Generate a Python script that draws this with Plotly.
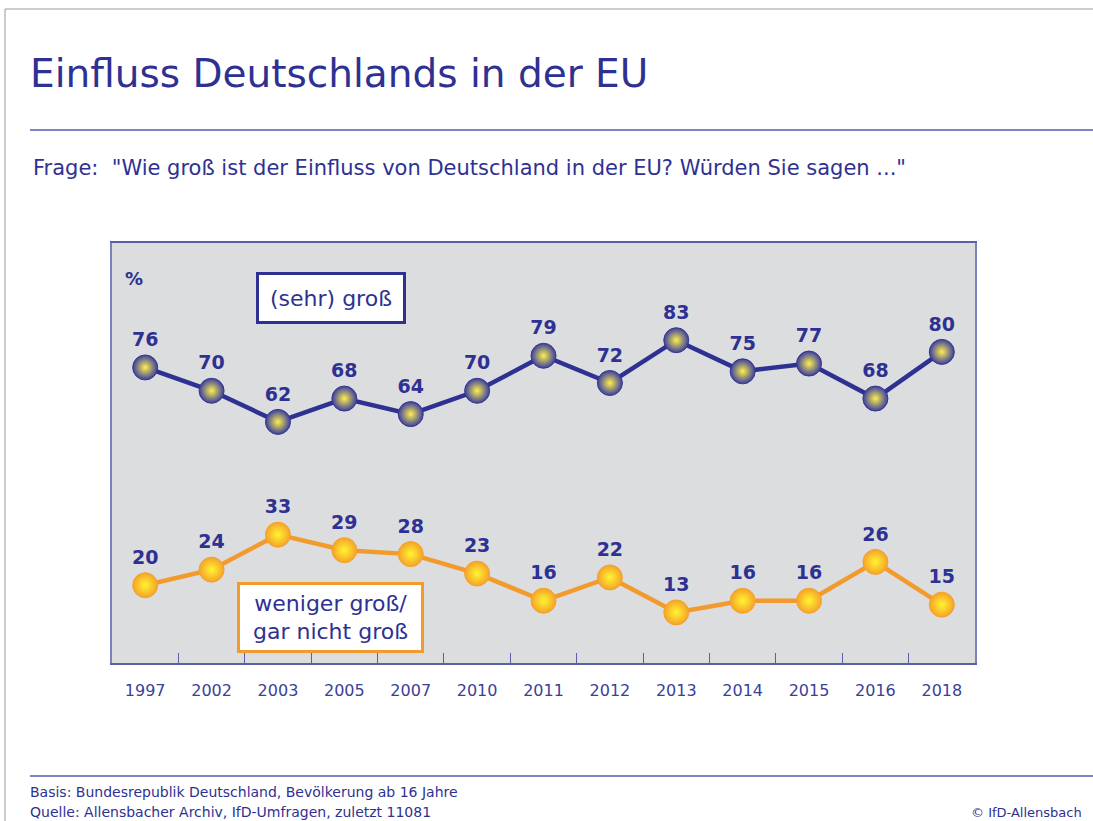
import plotly.graph_objects as go

years = ["1997", "2002", "2003", "2005", "2007", "2010", "2011", "2012", "2013", "2014", "2015", "2016", "2018"]
sehr_gross = [76, 70, 62, 68, 64, 70, 79, 72, 83, 75, 77, 68, 80]
weniger_gross = [20, 24, 33, 29, 28, 23, 16, 22, 13, 16, 16, 26, 15]

BLUE = "#2e3192"
ORANGE = "#f39a2c"
FONT = "DejaVu Sans"
W, H = 1093, 821
L, R, T, B = 112, 975, 243, 663


def px(x):
    return (x - L) / (R - L)


def py(y):
    return (B - y) / (B - T)


fig = go.Figure()

fig.add_trace(go.Scatter(
    x=years, y=sehr_gross, mode="lines+markers+text",
    text=[str(v) for v in sehr_gross], textposition="top center",
    textfont=dict(family=FONT, size=19, color=BLUE, weight="bold"),
    line=dict(color=BLUE, width=4.5),
    marker=dict(size=25, color="#3b3ea0", line=dict(color="#34378f", width=1),
                gradient=dict(type="radial", color="#fff04a")),
    cliponaxis=False, hoverinfo="skip", showlegend=False,
))
fig.add_trace(go.Scatter(
    x=years, y=weniger_gross, mode="lines+markers+text",
    text=[str(v) for v in weniger_gross], textposition="top center",
    textfont=dict(family=FONT, size=19, color=BLUE, weight="bold"),
    line=dict(color=ORANGE, width=4.5),
    marker=dict(size=25, color="#f5a22a", line=dict(color="#f5a22a", width=1),
                gradient=dict(type="radial", color="#fff530")),
    cliponaxis=False, hoverinfo="skip", showlegend=False,
))

fig.update_xaxes(
    type="category", range=[-0.5, 12.5], showgrid=False,
    showline=True, linecolor="#5b5fa8", linewidth=1.5, mirror=True,
    ticks="inside", tickson="boundaries", ticklen=10, tickcolor="#5b5fa8", tickwidth=1,
    tickfont=dict(family=FONT, size=16, color="#3b3f99"), ticklabelstandoff=12,
    fixedrange=True,
)
fig.update_yaxes(
    range=[0, 108], showgrid=False, zeroline=False, showticklabels=False,
    showline=True, linecolor="#7c80bd", linewidth=1.5, mirror=True,
    fixedrange=True,
)

annotations = [
    dict(x=px(28), y=py(73), text="Einfluss Deutschlands in der EU", xanchor="left", yanchor="middle",
         font=dict(family=FONT, size=39, color=BLUE)),
    dict(x=px(31), y=py(168), text='Frage:  "Wie groß ist der Einfluss von Deutschland in der EU? Würden Sie sagen ..."',
         xanchor="left", yanchor="middle", font=dict(family=FONT, size=21, color=BLUE)),
    dict(x=px(123), y=py(278), text="<b>%</b>", xanchor="left", yanchor="middle",
         font=dict(family=FONT, size=18, color=BLUE)),
    dict(x=px(331), y=py(298), text="(sehr) groß", xanchor="center", yanchor="middle",
         font=dict(family=FONT, size=22, color=BLUE), bgcolor="white", bordercolor=BLUE,
         borderwidth=3, borderpad=2, width=140, height=42),
    dict(x=px(330), y=py(617), text="weniger groß/<br>gar nicht groß", xanchor="center", yanchor="middle",
         align="center", font=dict(family=FONT, size=22, color=BLUE), bgcolor="white", bordercolor=ORANGE,
         borderwidth=3, borderpad=2, width=177, height=61),
    dict(x=px(28), y=py(792), text="Basis: Bundesrepublik Deutschland, Bevölkerung ab 16 Jahre",
         xanchor="left", yanchor="middle", font=dict(family=FONT, size=14, color=BLUE)),
    dict(x=px(28), y=py(812), text="Quelle: Allensbacher Archiv, IfD-Umfragen, zuletzt 11081",
         xanchor="left", yanchor="middle", font=dict(family=FONT, size=14, color=BLUE)),
    dict(x=px(1084), y=py(812), text="© IfD-Allensbach",
         xanchor="right", yanchor="middle", font=dict(family=FONT, size=13, color=BLUE)),
]
for a in annotations:
    a.update(xref="paper", yref="paper", showarrow=False)

shapes = [
    dict(type="line", x0=px(30), x1=px(1093), y0=py(130), y1=py(130), line=dict(color="#5458b0", width=1.5)),
    dict(type="line", x0=px(30), x1=px(1093), y0=py(776), y1=py(776), line=dict(color="#5458b0", width=1.5)),
    dict(type="line", x0=px(5), x1=px(1093), y0=py(9), y1=py(9), line=dict(color="#9a9a9a", width=1)),
    dict(type="line", x0=px(5), x1=px(5), y0=py(9), y1=py(821), line=dict(color="#9a9a9a", width=1)),
]
for s in shapes:
    s.update(xref="paper", yref="paper", layer="above")

fig.update_layout(
    width=W, height=H,
    margin=dict(l=L, r=W - R, t=T, b=H - B),
    paper_bgcolor="white", plot_bgcolor="#dcdddf",
    annotations=annotations, shapes=shapes,
    font=dict(family=FONT, color=BLUE),
)

fig.write_html("out.html", config={"displayModeBar": False},
               post_script="document.body.style.margin='0';document.body.style.overflow='hidden';")
